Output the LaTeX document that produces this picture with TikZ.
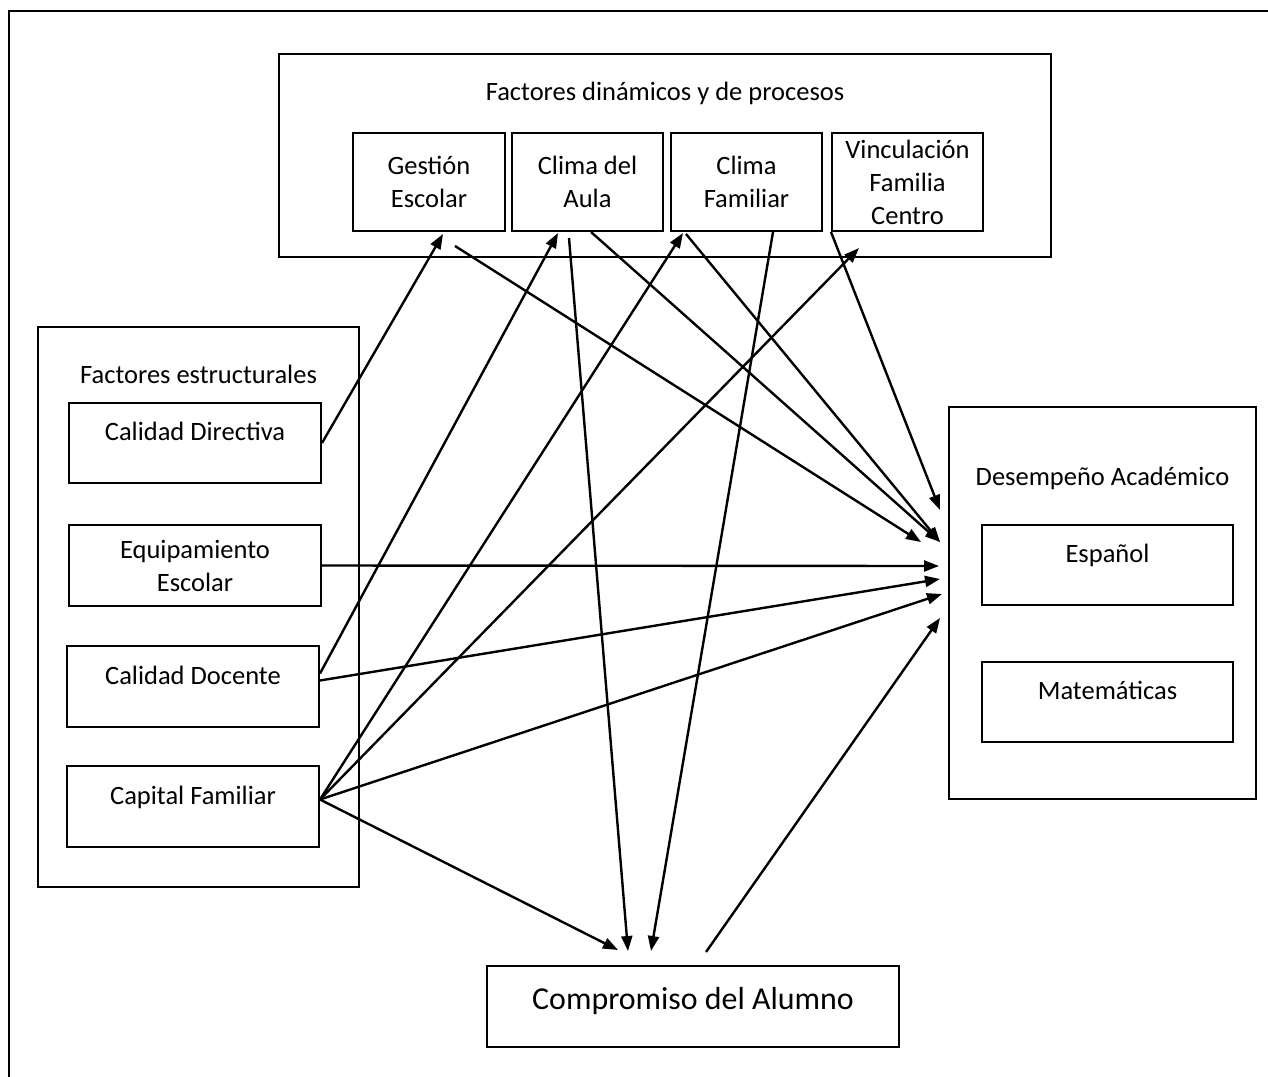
\documentclass[tikz,border=0pt]{standalone}
\usepackage{fontspec}
\setmainfont{Carlito}
\usetikzlibrary{positioning}
\usetikzlibrary{calc}
\usetikzlibrary{arrows.meta}
\tikzset{>={Triangle[length=15pt,width=11pt]}}
\tikzset{frame/.style={draw, line width=2pt, inner sep=0pt}}
\tikzset{caja/.style={draw, line width=2pt, align=center, inner sep=0pt,
      font=\fontsize{26.5}{33}\selectfont}}
\tikzset{arriba/.style={text height=19pt, text depth=24pt}}
\tikzset{titulo/.style={font=\fontsize{26.5}{33}\selectfont, inner sep=0pt}}
\tikzset{flecha/.style={->, line width=2.4pt}}

\begin{document}
\begin{tikzpicture}[x=1pt, y=-1pt]
\clip (0,0) rectangle (1268,1076);
\draw[line width=2pt] (9,1090) |- (1290,11);

% contenedores
\node[frame, minimum width=772, minimum height=203] (dyn) at (665,155.5) {};
\node[frame, minimum width=321, minimum height=560] (est) at (198.5,607) {};
\node[frame, minimum width=307, minimum height=392] (des) at (1102.5,603) {};

\begin{scope}[on grid]
\node[titulo, below=28.5pt of dyn.north] (tdyn) {Factores din\'amicos y de procesos};
\node[titulo, below=39pt of est.north] (test) {Factores estructurales};
\node[titulo, below=61pt of des.north] (tdes) {Desempe\~no Acad\'emico};
\end{scope}

% factores dinamicos
\node[caja, minimum width=152, minimum height=98] (gest) at (429,182) {Gesti\'on\\Escolar};
\node[caja, minimum width=151, minimum height=98] (aula) at (587.5,182) {Clima del\\Aula};
\node[caja, minimum width=151, minimum height=98] (fam) at (746.5,182) {Clima\\Familiar};
\node[caja, minimum width=151, minimum height=98] (vinc) at (907.5,182) {Vinculaci\'on\\Familia\\Centro};

% factores estructurales
\node[caja, arriba, minimum width=252, minimum height=80] (caldir) at (195,443) {Calidad Directiva};
\node[caja, minimum width=252, minimum height=81] (equip) at (195,565.5) {Equipamiento\\Escolar};
\node[caja, arriba, minimum width=252, minimum height=81] (caldoc) at (193,686.5) {Calidad Docente};
\node[caja, arriba, minimum width=252, minimum height=81] (capfam) at (193,806.5) {Capital Familiar};

% desempeno
\node[caja, arriba, minimum width=251, minimum height=80] (esp) at (1107.5,565) {Espa\~nol};
\node[caja, arriba, minimum width=251, minimum height=80] (mat) at (1107.5,702) {Matem\'aticas};

\node[caja, text height=22pt, text depth=17pt, minimum width=412, minimum height=81,
      font=\fontsize{31.9}{38}\selectfont] (comp) at (693,1006.5) {Compromiso del Alumno};

% relaciones
\draw[flecha] (caldir.east) -- ([xshift=14pt,yshift=-2pt]gest.south);
\draw[flecha] ([xshift=26pt,yshift=-14pt]gest.south) -- ([xshift=-27pt,yshift=61pt]des.west);
\draw[flecha] ([xshift=-18.5pt,yshift=-6pt]aula.south) -- ([xshift=-65pt,yshift=14pt]comp.north);
\draw[flecha] ([xshift=3.5pt]aula.south) -- ([xshift=-8pt,yshift=61pt]des.west);
\draw[flecha] ([xshift=-60.5pt,yshift=-2pt]fam.south) -- ([xshift=-8pt,yshift=61pt]des.west);
\draw[flecha] ([xshift=26.5pt]fam.south) -- ([xshift=-42pt,yshift=14pt]comp.north);
\draw[flecha] (vinc.south west) -- ([xshift=-8pt,yshift=93pt]des.west);

\draw[flecha] (equip.east) -- ([xshift=-9pt,yshift=37pt]des.west);
\draw[flecha] ([yshift=13pt]caldoc.east) -- ([xshift=-29.5pt,yshift=-1pt]aula.south);
\draw[flecha] ([yshift=6pt]caldoc.east) -- ([xshift=-8pt,yshift=24pt]des.west);

\draw[flecha] ([yshift=7pt]capfam.east) -- ([xshift=-63.5pt,yshift=-1pt]fam.south);
\draw[flecha] ([yshift=7pt]capfam.east) -- ([xshift=-48.5pt,yshift=-16pt]vinc.south);
\draw[flecha] ([yshift=7pt]capfam.east) -- ([xshift=-6pt,yshift=9pt]des.west);
\draw[flecha] ([yshift=7pt]capfam.east) -- ([xshift=-75pt,yshift=15pt]comp.north);

\draw[flecha] ([xshift=13pt,yshift=13pt]comp.north) -- ([xshift=-8pt,yshift=-15pt]des.west);
\end{tikzpicture}
\end{document}
